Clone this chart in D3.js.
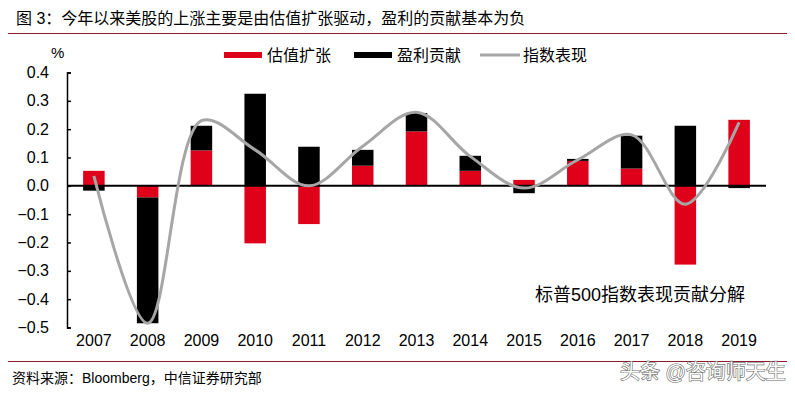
<!DOCTYPE html>
<html>
<head>
<meta charset="utf-8">
<script src="https://cdn.jsdelivr.net/npm/d3@7"></script>
<style>
  body { margin: 0; background: #fff; }
  svg { display: block; font-family: "Liberation Sans", Arial, "Noto Sans CJK SC", sans-serif; }
</style>
</head>
<body>
<svg width="795" height="393"></svg>
<script>
// chart data
const years = ["2007", "2008", "2009", "2010", "2011", "2012", "2013", "2014", "2015", "2016", "2017", "2018", "2019"];
const valuation = [0.053, -0.041, 0.125, -0.203, -0.135, 0.071, 0.192, 0.053, 0.021, 0.088, 0.061, -0.278, 0.233];
const earnings = [-0.017, -0.444, 0.087, 0.325, 0.138, 0.056, 0.065, 0.053, -0.026, 0.007, 0.116, 0.212, -0.008];
const indexPerf = [0.035, -0.485, 0.23, 0.127, 0.0, 0.14, 0.26, 0.104, -0.008, 0.092, 0.18, -0.065, 0.224];
const yTicks = [0.4, 0.3, 0.2, 0.1, 0.0, -0.1, -0.2, -0.3, -0.4, -0.5];

const seriesNames = ["估值扩张", "盈利贡献", "指数表现"];
const colors = { red: "#df0019", black: "#000000", gray: "#a6a6a6", rule: "#8e1b2e" };

const svg = d3.select("svg");

const plot = { left: 67, right: 766, top: 72.5, bottom: 327.5 };

const x = d3.scaleBand()
  .domain(years)
  .range([plot.left, plot.right])
  .paddingInner(0.6)
  .paddingOuter(0.3);

const y = d3.scaleLinear()
  .domain([-0.5, 0.4])
  .range([plot.bottom, plot.top]);

// title + rules
svg.append("text")
  .attr("x", 16).attr("y", 24)
  .attr("font-size", 16)
  .attr("fill", "#000")
  .text("图 3：今年以来美股的上涨主要是由估值扩张驱动，盈利的贡献基本为负");

svg.append("line")
  .attr("x1", 8).attr("x2", 787).attr("y1", 33.5).attr("y2", 33.5)
  .attr("stroke", colors.rule).attr("stroke-width", 1);

svg.append("line")
  .attr("x1", 8).attr("x2", 787).attr("y1", 361.5).attr("y2", 361.5)
  .attr("stroke", colors.rule).attr("stroke-width", 1);

svg.append("text")
  .attr("x", 12).attr("y", 383)
  .attr("font-size", 14)
  .text("资料来源：Bloomberg，中信证券研究部");

// stacked bars
const rows = years.map((yr, i) => ({ year: yr, valuation: valuation[i], earnings: earnings[i] }));
const stack = d3.stack()
  .keys(["valuation", "earnings"])
  .offset(d3.stackOffsetDiverging);
const stacked = stack(rows);
const fillFor = { valuation: colors.red, earnings: colors.black };

svg.append("g")
  .selectAll("g")
  .data(stacked)
  .join("g")
  .attr("fill", (s) => fillFor[s.key])
  .selectAll("rect")
  .data((s) => s)
  .join("rect")
  .attr("x", (d) => x(d.data.year))
  .attr("width", x.bandwidth())
  .attr("y", (d) => y(Math.max(d[0], d[1])))
  .attr("height", (d) => Math.abs(y(d[0]) - y(d[1])));

// y axis
const yAxis = d3.axisLeft(y)
  .tickValues(yTicks)
  .tickFormat(d3.format(".1f"))
  .tickSizeInner(-4)
  .tickSizeOuter(-4)
  .tickPadding(18);

const yg = svg.append("g")
  .attr("transform", `translate(${plot.left},0)`)
  .call(yAxis);
yg.selectAll("path, line").attr("stroke", "#000").attr("stroke-width", 1.5);
yg.selectAll("text").attr("font-size", 16).attr("fill", "#000")
  .attr("font-family", "Liberation Sans, Arial, sans-serif");

svg.append("text")
  .attr("x", 51).attr("y", 58)
  .attr("font-size", 15)
  .text("%");

// x labels
const xAxis = d3.axisBottom(x).tickSize(0).tickPadding(7);
const xg = svg.append("g")
  .attr("transform", `translate(0,${plot.bottom})`)
  .call(xAxis);
xg.select(".domain").remove();
xg.selectAll("text").attr("font-size", 16).attr("fill", "#000")
  .attr("font-family", "Liberation Sans, Arial, sans-serif");

// zero line
svg.append("line")
  .attr("x1", plot.left).attr("x2", plot.right)
  .attr("y1", y(0)).attr("y2", y(0))
  .attr("stroke", "#000").attr("stroke-width", 2);

// index performance line (smoothed)
const line = d3.line()
  .x((d, i) => x(years[i]) + x.bandwidth() / 2)
  .y((d) => y(d))
  .curve(d3.curveCatmullRom.alpha(0.5));

svg.append("path")
  .datum(indexPerf)
  .attr("d", line)
  .attr("fill", "none")
  .attr("stroke", colors.gray)
  .attr("stroke-width", 3);

// legend
const legend = svg.append("g").attr("font-size", 16);
const legendItems = [
  { name: seriesNames[0], x: 224, kind: "rect", color: colors.red },
  { name: seriesNames[1], x: 354, kind: "rect", color: colors.black },
  { name: seriesNames[2], x: 480, kind: "line", color: colors.gray },
];
legendItems.forEach((it) => {
  if (it.kind === "rect") {
    legend.append("rect")
      .attr("x", it.x).attr("y", 52)
      .attr("width", 38).attr("height", 6)
      .attr("fill", it.color);
  } else {
    legend.append("line")
      .attr("x1", it.x).attr("x2", it.x + 40)
      .attr("y1", 55).attr("y2", 55)
      .attr("stroke", it.color).attr("stroke-width", 3);
  }
  legend.append("text")
    .attr("x", it.x + 43).attr("y", 61)
    .text(it.name);
});

// annotation
svg.append("text")
  .attr("x", 535).attr("y", 301)
  .attr("font-size", 18)
  .text("标普500指数表现贡献分解");

// watermark
svg.append("text")
  .attr("x", 620).attr("y", 379)
  .attr("font-size", 20)
  .attr("fill", "#fff")
  .attr("stroke", "#666")
  .attr("stroke-width", 1.2)
  .attr("paint-order", "stroke")
  .text("头条 @咨询师天生");
</script>
</body>
</html>
